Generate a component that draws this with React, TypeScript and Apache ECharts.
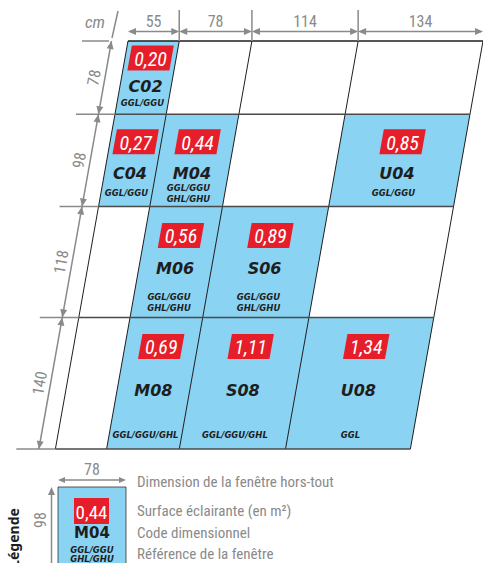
import React, { useEffect, useRef } from "react";
import * as echarts from "echarts";

// ---------------- data ----------------
const columnWidthsCm = [55, 78, 114, 134];
const rowHeightsCm = [78, 98, 118, 140];
const windowCodes = ["C02", "C04", "M04", "U04", "M06", "S06", "M08", "S08", "U08"];
const windowColumn = [0, 0, 1, 3, 1, 2, 1, 2, 3];
const windowRow = [0, 1, 1, 1, 2, 2, 3, 3, 3];
const windowSurfaces = [0.2, 0.27, 0.44, 0.85, 0.56, 0.89, 0.69, 1.11, 1.34];
const windowReferences = [
  "GGL/GGU",
  "GGL/GGU",
  "GGL/GGU\nGHL/GHU",
  "GGL/GGU",
  "GGL/GGU\nGHL/GHU",
  "GGL/GGU\nGHL/GHU",
  "GGL/GGU/GHL",
  "GGL/GGU/GHL",
  "GGL",
];
const unitLabel = "cm";
const legendTitle = "Légende";
const legendWidthCm = 78;
const legendHeightCm = 98;
const legendSurface = 0.44;
const legendCode = "M04";
const legendReference = "GGL/GGU\nGHL/GHU";
const legendDescriptions = [
  "Dimension de la fenêtre hors-tout",
  "Surface éclairante (en m²)",
  "Code dimensionnel",
  "Référence de la fenêtre",
];

// ---------------- layout / style ----------------
const SKEW = -0.178;
const BLUE = "#8AD3F3";
const RED = "#E61E2A";
const GRAY = "#8A8A8A";
const DARK = "#1E1E1E";
const NARROW = "'Liberation Sans Narrow', 'Roboto Condensed', 'Roboto', sans-serif";
const WIDE = "'DejaVu Sans', 'Noto Sans', sans-serif";
const boxDy = [17, 27.5, 29, 29];
const codeDy = [45, 59.5, 62, 73];
const refDyBottom = [11, 13, 15, 14];

const cumul = (arr: number[]) => {
  const out = [0];
  arr.forEach((v) => out.push(out[out.length - 1] + v));
  return out;
};
const colEdges = cumul(columnWidthsCm);
const rowEdges = cumul(rowHeightsCm);
const totalW = colEdges[colEdges.length - 1];
const totalH = rowEdges[rowEdges.length - 1];
const fmt = (v: number) => v.toFixed(2).replace(".", ",");

const skewer = (api: any) => {
  const o = api.coord([0, 0]);
  return (x: number, y: number) => {
    const p = api.coord([x, y]);
    return [p[0] + SKEW * (p[1] - o[1]), p[1]];
  };
};

const arrowHead = (tip: number[], from: number[], len = 8, half = 3.5, color = GRAY) => {
  const dx = tip[0] - from[0];
  const dy = tip[1] - from[1];
  const d = Math.sqrt(dx * dx + dy * dy) || 1;
  const ux = dx / d;
  const uy = dy / d;
  const bx = tip[0] - ux * len;
  const by = tip[1] - uy * len;
  return {
    type: "polygon",
    shape: {
      points: [
        [tip[0], tip[1]],
        [bx - uy * half, by + ux * half],
        [bx + uy * half, by - ux * half],
      ],
    },
    style: { fill: color },
  };
};

const gLine = (x1: number, y1: number, x2: number, y2: number, stroke: string, lineWidth: number) => ({
  type: "line",
  shape: { x1, y1, x2, y2 },
  style: { stroke, lineWidth },
});

export default function App() {
  const ref = useRef<HTMLDivElement>(null);

  useEffect(() => {
    document.body.style.margin = "0";
    if (!ref.current) return;
    const chart = echarts.init(ref.current, undefined, { renderer: "svg" });

    const cellsSeries = {
      type: "custom",
      clip: false,
      silent: true,
      z: 1,
      data: windowCodes.map((_, i) => [colEdges[windowColumn[i]], rowEdges[windowRow[i]]]),
      renderItem: (params: any, api: any) => {
        const i = params.dataIndex;
        const s = skewer(api);
        const c = windowColumn[i];
        const r = windowRow[i];
        return {
          type: "polygon",
          shape: {
            points: [
              s(colEdges[c], rowEdges[r]),
              s(colEdges[c + 1], rowEdges[r]),
              s(colEdges[c + 1], rowEdges[r + 1]),
              s(colEdges[c], rowEdges[r + 1]),
            ],
          },
          style: { fill: BLUE },
        };
      },
    };

    const verticalLines = {
      type: "custom",
      clip: false,
      silent: true,
      z: 2,
      data: colEdges.map((v) => [v, 0]),
      renderItem: (params: any, api: any) => {
        const s = skewer(api);
        const x = colEdges[params.dataIndex];
        const a = s(x, 0);
        const b = s(x, totalH);
        return gLine(a[0], a[1], b[0], b[1], DARK, 1);
      },
    };

    const horizontalLines = {
      type: "custom",
      clip: false,
      silent: true,
      z: 3,
      data: rowEdges.map((v) => [0, v]),
      renderItem: (params: any, api: any) => {
        const s = skewer(api);
        const idx = params.dataIndex;
        const y = rowEdges[idx];
        const a = s(0, y);
        const b = s(totalW, y);
        const ext =
          idx === 0
            ? gLine(a[0] - 46, a[1], a[0] - 19, a[1], GRAY, 1.5)
            : gLine(a[0] - 39, a[1], a[0], a[1], GRAY, 1.5);
        return {
          type: "group",
          children: [gLine(a[0], a[1], b[0], b[1], idx === 0 ? DARK : "#4A4A4A", 1.5), ext],
        };
      },
    };

    const topDims = {
      type: "custom",
      clip: false,
      silent: true,
      z: 4,
      data: columnWidthsCm.map((w, i) => [colEdges[i], 0]),
      renderItem: (params: any, api: any) => {
        const i = params.dataIndex;
        const xa = api.coord([colEdges[i], 0])[0];
        const xb = api.coord([colEdges[i + 1], 0])[0];
        const top = api.coord([0, 0])[1];
        const ay = top - 9.5;
        const children: any[] = [
          gLine(xa + 2, ay, xb - 2, ay, GRAY, 1.5),
          arrowHead([xa, ay], [xb, ay]),
          arrowHead([xb, ay], [xa, ay]),
          {
            type: "text",
            style: {
              text: String(columnWidthsCm[i]),
              x: (xa + xb) / 2,
              y: top - 20,
              fill: GRAY,
              fontSize: 16,
              fontFamily: NARROW,
              align: "center",
              verticalAlign: "middle",
            },
          },
        ];
        if (i < columnWidthsCm.length - 1) {
          children.push(gLine(xb, top - 31, xb, top, GRAY, 1.5));
        }
        return { type: "group", children };
      },
    };

    const leftDims = {
      type: "custom",
      clip: false,
      silent: true,
      z: 4,
      data: rowHeightsCm.map((h, i) => [0, rowEdges[i]]),
      renderItem: (params: any, api: any) => {
        const i = params.dataIndex;
        const s = skewer(api);
        const a = s(0, rowEdges[i]);
        const b = s(0, rowEdges[i + 1]);
        const off = 16.5;
        const p0 = [a[0] - off, a[1]];
        const p1 = [b[0] - off, b[1]];
        const mx = (p0[0] + p1[0]) / 2 - 11;
        const my = (p0[1] + p1[1]) / 2;
        return {
          type: "group",
          children: [
            gLine(p0[0], p0[1], p1[0], p1[1], GRAY, 1.5),
            arrowHead(p0, p1),
            arrowHead(p1, p0),
            {
              type: "text",
              x: mx,
              y: my,
              rotation: Math.atan2(1, -SKEW),
              style: {
                text: String(rowHeightsCm[i]),
                x: 0,
                y: 0,
                fill: GRAY,
                fontSize: 16,
                fontFamily: NARROW,
                align: "center",
                verticalAlign: "middle",
              },
            },
          ],
        };
      },
    };

    const labelsSeries = {
      type: "custom",
      clip: false,
      silent: true,
      z: 5,
      data: windowCodes.map((_, i) => [colEdges[windowColumn[i]], rowEdges[windowRow[i]]]),
      renderItem: (params: any, api: any) => {
        const i = params.dataIndex;
        const c = windowColumn[i];
        const r = windowRow[i];
        const tl = api.coord([colEdges[c], rowEdges[r]]);
        const br = api.coord([colEdges[c + 1], rowEdges[r + 1]]);
        const top = api.coord([0, 0])[1];
        const cxAt = (py: number) => (tl[0] + br[0]) / 2 + SKEW * (py - top);
        const by = tl[1] + boxDy[r];
        const bx = cxAt(by);
        const hw = 21;
        const hh = 12.5;
        const cy = tl[1] + codeDy[r];
        const ry = br[1] - refDyBottom[r];
        return {
          type: "group",
          children: [
            {
              type: "polygon",
              shape: {
                points: [
                  [bx - hw - SKEW * hh, by - hh],
                  [bx + hw - SKEW * hh, by - hh],
                  [bx + hw + SKEW * hh, by + hh],
                  [bx - hw + SKEW * hh, by + hh],
                ],
              },
              style: { fill: RED },
            },
            {
              type: "text",
              style: {
                text: fmt(windowSurfaces[i]),
                x: bx,
                y: by + 1,
                fill: "#FFFFFF",
                fontSize: 20,
                fontStyle: "italic",
                fontFamily: NARROW,
                align: "center",
                verticalAlign: "middle",
              },
            },
            {
              type: "text",
              style: {
                text: windowCodes[i],
                x: cxAt(cy),
                y: cy,
                fill: DARK,
                fontSize: 16,
                fontWeight: "bold",
                fontStyle: "italic",
                fontFamily: WIDE,
                align: "center",
                verticalAlign: "middle",
              },
            },
            {
              type: "text",
              style: {
                text: windowReferences[i],
                x: cxAt(ry),
                y: ry,
                fill: DARK,
                fontSize: 8.5,
                lineHeight: 10.5,
                fontWeight: "bold",
                fontStyle: "italic",
                fontFamily: WIDE,
                align: "center",
                verticalAlign: "middle",
              },
            },
          ],
        };
      },
    };

    const legendGraphics: any[] = [
      {
        type: "text",
        x: 95,
        y: 22,
        style: { text: unitLabel, fill: GRAY, fontSize: 17, fontStyle: "italic", fontFamily: NARROW, align: "center", verticalAlign: "middle" },
      },
      { type: "line", shape: { x1: 118, y1: 11, x2: 112, y2: 38 }, style: { stroke: GRAY, lineWidth: 1.5 } },
      // legend box
      { type: "rect", shape: { x: 58, y: 487, width: 68, height: 90 }, style: { fill: BLUE, stroke: "#333", lineWidth: 0.8 } },
      { type: "rect", shape: { x: 74, y: 498, width: 35, height: 26 }, style: { fill: RED } },
      {
        type: "text",
        x: 91.5,
        y: 512,
        style: { text: fmt(legendSurface), fill: "#fff", fontSize: 19, fontFamily: NARROW, align: "center", verticalAlign: "middle" },
      },
      {
        type: "text",
        x: 92,
        y: 533,
        style: { text: legendCode, fill: DARK, fontSize: 15, fontWeight: "bold", fontFamily: WIDE, align: "center", verticalAlign: "middle" },
      },
      {
        type: "text",
        x: 92,
        y: 554.5,
        style: {
          text: legendReference,
          fill: DARK,
          fontSize: 8.5,
          lineHeight: 9,
          fontWeight: "bold",
          fontStyle: "italic",
          fontFamily: WIDE,
          align: "center",
          verticalAlign: "middle",
        },
      },
      { type: "line", shape: { x1: 60, y1: 480, x2: 124, y2: 480 }, style: { stroke: GRAY, lineWidth: 1.5 } },
      { type: "polygon", shape: { points: [[58, 480], [65, 477], [65, 483]] }, style: { fill: GRAY } },
      { type: "polygon", shape: { points: [[126, 480], [119, 477], [119, 483]] }, style: { fill: GRAY } },
      {
        type: "text",
        x: 92,
        y: 469,
        style: { text: String(legendWidthCm), fill: GRAY, fontSize: 16, fontFamily: NARROW, align: "center", verticalAlign: "middle" },
      },
      { type: "line", shape: { x1: 51.5, y1: 490, x2: 51.5, y2: 570 }, style: { stroke: GRAY, lineWidth: 1.5 } },
      { type: "polygon", shape: { points: [[51.5, 487], [48, 495], [55, 495]] }, style: { fill: GRAY } },
      {
        type: "text",
        x: 40,
        y: 520,
        rotation: Math.PI / 2,
        style: { text: String(legendHeightCm), fill: GRAY, fontSize: 16, fontFamily: NARROW, align: "center", verticalAlign: "middle" },
      },
      {
        type: "text",
        x: 13,
        y: 538,
        rotation: Math.PI / 2,
        style: { text: legendTitle, fill: DARK, fontSize: 14, fontWeight: "bold", fontFamily: "'Noto Sans', sans-serif", align: "center", verticalAlign: "middle" },
      },
      ...legendDescriptions.map((t, i) => ({
        type: "text",
        x: 137,
        y: [482, 511, 533, 554][i],
        style: { text: t, fill: GRAY, fontSize: 15, fontFamily: NARROW, align: "left", verticalAlign: "middle" },
      })),
    ];

    chart.setOption({
      animation: false,
      backgroundColor: "#ffffff",
      grid: { left: 128, top: 41, width: 355, height: 408, containLabel: false },
      xAxis: { type: "value", min: 0, max: totalW, show: false },
      yAxis: { type: "value", min: 0, max: totalH, inverse: true, show: false },
      series: [cellsSeries, verticalLines, horizontalLines, topDims, leftDims, labelsSeries],
      graphic: legendGraphics,
    } as any);

    return () => chart.dispose();
  }, []);

  return <div ref={ref} style={{ width: 483, height: 563 }} />;
}
